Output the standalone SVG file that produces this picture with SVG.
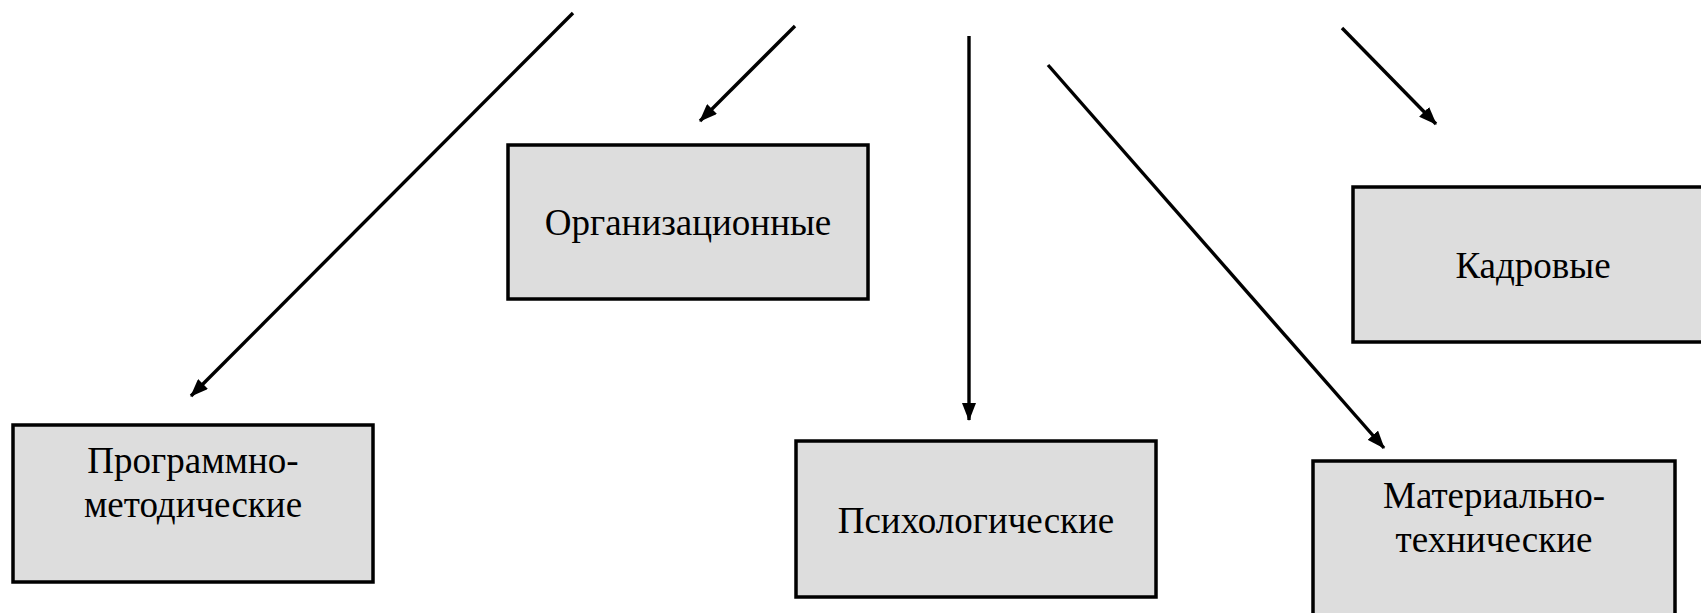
<svg xmlns="http://www.w3.org/2000/svg" width="1701" height="613" viewBox="0 0 1701 613">
<style>
.box{fill:#dddddd;stroke:#000;stroke-width:3.5}
.lbl{font-family:"Liberation Serif","Times New Roman",serif;font-size:37px;fill:#000;text-anchor:middle}
.arr{stroke:#000;stroke-width:3.4;fill:none;marker-end:url(#ah)}
</style>
<defs>
<marker id="ah" markerUnits="userSpaceOnUse" markerWidth="18" markerHeight="14" refX="17" refY="7" orient="auto" viewBox="0 0 18 14">
<path d="M0,0 L18,7 L0,14 z" fill="#000"/>
</marker>
</defs>
<rect width="1701" height="613" fill="#fff"/>
<g id="connectors">
<line class="arr" x1="573" y1="13" x2="191" y2="396"/>
<line class="arr" x1="795" y1="26" x2="700" y2="121"/>
<line class="arr" x1="969" y1="36" x2="969" y2="420"/>
<line class="arr" x1="1048" y1="65" x2="1384" y2="448"/>
<line class="arr" x1="1342" y1="28" x2="1436" y2="124"/>
</g>
<g id="node-programmno">
<rect class="box" x="13" y="425" width="360" height="157"/>
<text class="lbl" x="193" y="473">Программно-</text>
<text class="lbl" x="193" y="517">методические</text>
</g>
<g id="node-org">
<rect class="box" x="508" y="145" width="360" height="154"/>
<text class="lbl" x="688" y="235">Организационные</text>
</g>
<g id="node-psych">
<rect class="box" x="796" y="441" width="360" height="156"/>
<text class="lbl" x="976" y="533">Психологические</text>
</g>
<g id="node-kadr">
<rect class="box" x="1353" y="187" width="360" height="155"/>
<text class="lbl" x="1533" y="278">Кадровые</text>
</g>
<g id="node-mat">
<rect class="box" x="1313" y="461" width="362" height="170"/>
<text class="lbl" x="1494" y="508">Материально-</text>
<text class="lbl" x="1494" y="552">технические</text>
</g>
</svg>
